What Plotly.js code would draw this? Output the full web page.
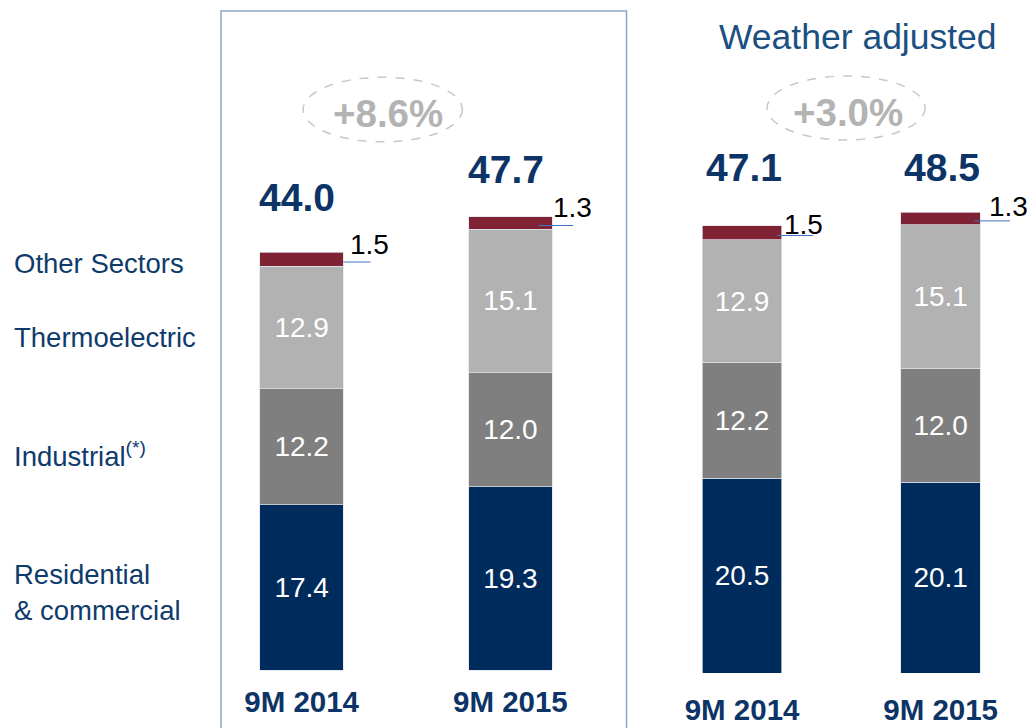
<!DOCTYPE html>
<html>
<head>
<meta charset="utf-8">
<script src="https://cdn.plot.ly/plotly-3.0.1.min.js"></script>
<style>html,body{margin:0;padding:0;background:#fff;}#chart{width:1034px;height:728px;}</style>
</head>
<body>
<div id="chart"></div>
<script>
// ---- data ----
var periods = ['9M 2014', '9M 2015'];
var seriesNames = ['Residential & commercial', 'Industrial(*)', 'Thermoelectric', 'Other Sectors'];
// Actual
var residential = [17.4, 19.3];
var industrial = [12.2, 12.0];
var thermoelectric = [12.9, 15.1];
var otherSectors = [1.5, 1.3];
var totals = [44.0, 47.7];
var growth = '+8.6%';
// Weather adjusted
var residentialAdj = [20.5, 20.1];
var industrialAdj = [12.2, 12.0];
var thermoelectricAdj = [12.9, 15.1];
var otherSectorsAdj = [1.5, 1.3];
var totalsAdj = [47.1, 48.5];
var growthAdj = '+3.0%';
var adjTitle = 'Weather adjusted';

// ---- style ----
var FONT = 'Liberation Sans, Arial, sans-serif';
var colors = ['#002c5d', '#7f7f7f', '#b2b2b2', '#7f2233'];
var navy = '#0d3466';
var labelBlue = '#0e3b6c';

function makeTraces(groups, xa, ya) {
  return groups.map(function (vals, i) {
    return {
      type: 'bar', x: periods, y: vals, name: seriesNames[i],
      xaxis: xa, yaxis: ya, width: 0.4,
      marker: {color: colors[i], line: {color: 'rgba(220,226,236,0.9)', width: 0.8}},
      text: vals.map(function (v) { return v.toFixed(1); }),
      textposition: i === 3 ? 'none' : 'inside',
      insidetextanchor: 'middle',
      textfont: {family: FONT, size: 28, color: '#ffffff'},
      constraintext: 'none',
      hoverinfo: 'skip', showlegend: false
    };
  });
}

var traces = makeTraces([residential, industrial, thermoelectric, otherSectors], 'x', 'y')
  .concat(makeTraces([residentialAdj, industrialAdj, thermoelectricAdj, otherSectorsAdj], 'x2', 'y2'));

var annotations = [];
var shapes = [];

function addGroupDecor(xref, yref, tots, others, totShiftX, totShiftY, smallShiftX, smallShiftY, lineX) {
  tots.forEach(function (t, i) {
    annotations.push({xref: xref, yref: yref, x: i, y: t, text: t.toFixed(1), showarrow: false,
      xanchor: 'center', yanchor: 'middle', xshift: totShiftX[i], yshift: totShiftY[i],
      font: {family: FONT, size: 39, color: navy, weight: 'bold'}});
    annotations.push({xref: xref, yref: yref, x: i, y: t, text: others[i].toFixed(1), showarrow: false,
      xanchor: 'center', yanchor: 'middle', xshift: smallShiftX[i], yshift: smallShiftY[i],
      font: {family: FONT, size: 28, color: '#000000'}});
    var base = t - others[i];
    shapes.push({type: 'line', xref: xref, yref: yref, x0: i + lineX[i][0], x1: i + lineX[i][1],
      y0: base + others[i] * 0.3, y1: base + others[i] * 0.3,
      line: {color: '#4472c4', width: 1}});
  });
}

addGroupDecor('x', 'y', totals, otherSectors, [-5, -4], [55, 47], [68, 62], [8, 9],
  [[0.2, 0.33], [0.134, 0.30]]);
addGroupDecor('x2', 'y2', totalsAdj, otherSectorsAdj, [2, 1], [58, 45], [61, 68], [1, 6],
  [[0.176, 0.358], [0.169, 0.35]]);

// growth bubbles
annotations.push({xref: 'x', yref: 'y', x: 0.412, y: 58.6, text: growth, showarrow: false,
  font: {family: FONT, size: 38.5, color: '#b3b3b3', weight: 'bold'}});
annotations.push({xref: 'x2', yref: 'y2', x: 0.534, y: 58.95, text: growthAdj, showarrow: false,
  font: {family: FONT, size: 38.5, color: '#b3b3b3', weight: 'bold'}});
shapes.push({type: 'circle', xref: 'x', yref: 'y', x0: 0.007, x1: 0.77, y0: 55.6, y1: 62.4,
  line: {color: '#c8c8c8', width: 1.5, dash: 'dash'}});
shapes.push({type: 'circle', xref: 'x2', yref: 'y2', x0: 0.126, x1: 0.922, y0: 56.1, y1: 62.84,
  line: {color: '#c8c8c8', width: 1.5, dash: 'dash'}});

// weather adjusted title
annotations.push({xref: 'paper', yref: 'paper', x: 0.8298, y: 0.945, text: adjTitle, showarrow: false,
  xanchor: 'center', yanchor: 'middle', font: {family: FONT, size: 35.5, color: '#1b4f82'}});

// series labels on the left
var leftLabels = [
  {t: 'Other Sectors', y: 42.8},
  {t: 'Thermoelectric', y: 35.05},
  {t: 'Industrial<sup>(*)</sup>', y: 22.7},
  {t: 'Residential<br>& commercial', y: 8.2}
];
leftLabels.forEach(function (l) {
  annotations.push({xref: 'paper', yref: 'y', x: 0.0118, y: l.y, text: l.t, showarrow: false,
    xanchor: 'left', yanchor: 'middle', align: 'left',
    font: {family: FONT, size: 27.5, color: labelBlue}});
});

// frame around actual figures
shapes.push({type: 'rect', xref: 'paper', yref: 'paper', x0: 0.2137, x1: 0.6059, y0: -0.2, y1: 0.9837,
  line: {color: '#8ea5c9', width: 1.5}});

var xCommon = {type: 'category', showgrid: false, zeroline: false, showline: false, ticks: '',
  tickfont: {family: FONT, size: 29.5, color: navy, weight: 'bold'}, fixedrange: true};

var layout = {
  width: 1034, height: 728,
  margin: {l: 0, r: 0, t: 0, b: 55},
  paper_bgcolor: '#ffffff', plot_bgcolor: '#ffffff',
  barmode: 'stack', showlegend: false, hovermode: false,
  xaxis: Object.assign({}, xCommon, {domain: [0.19077, 0.59454], range: [-0.5, 1.5], anchor: 'y', ticklabelstandoff: 8}),
  xaxis2: Object.assign({}, xCommon, {domain: [0.62162, 0.99613], range: [-0.5, 1.45], anchor: 'y2', ticklabelstandoff: 16}),
  yaxis: {range: [-0.316, 70.53], visible: false, domain: [0, 1], anchor: 'x', fixedrange: true},
  yaxis2: {range: [0, 70.84], visible: false, domain: [0, 1], anchor: 'x2', fixedrange: true},
  annotations: annotations,
  shapes: shapes
};

Plotly.newPlot('chart', traces, layout, {staticPlot: true, displayModeBar: false});
</script>
</body>
</html>
